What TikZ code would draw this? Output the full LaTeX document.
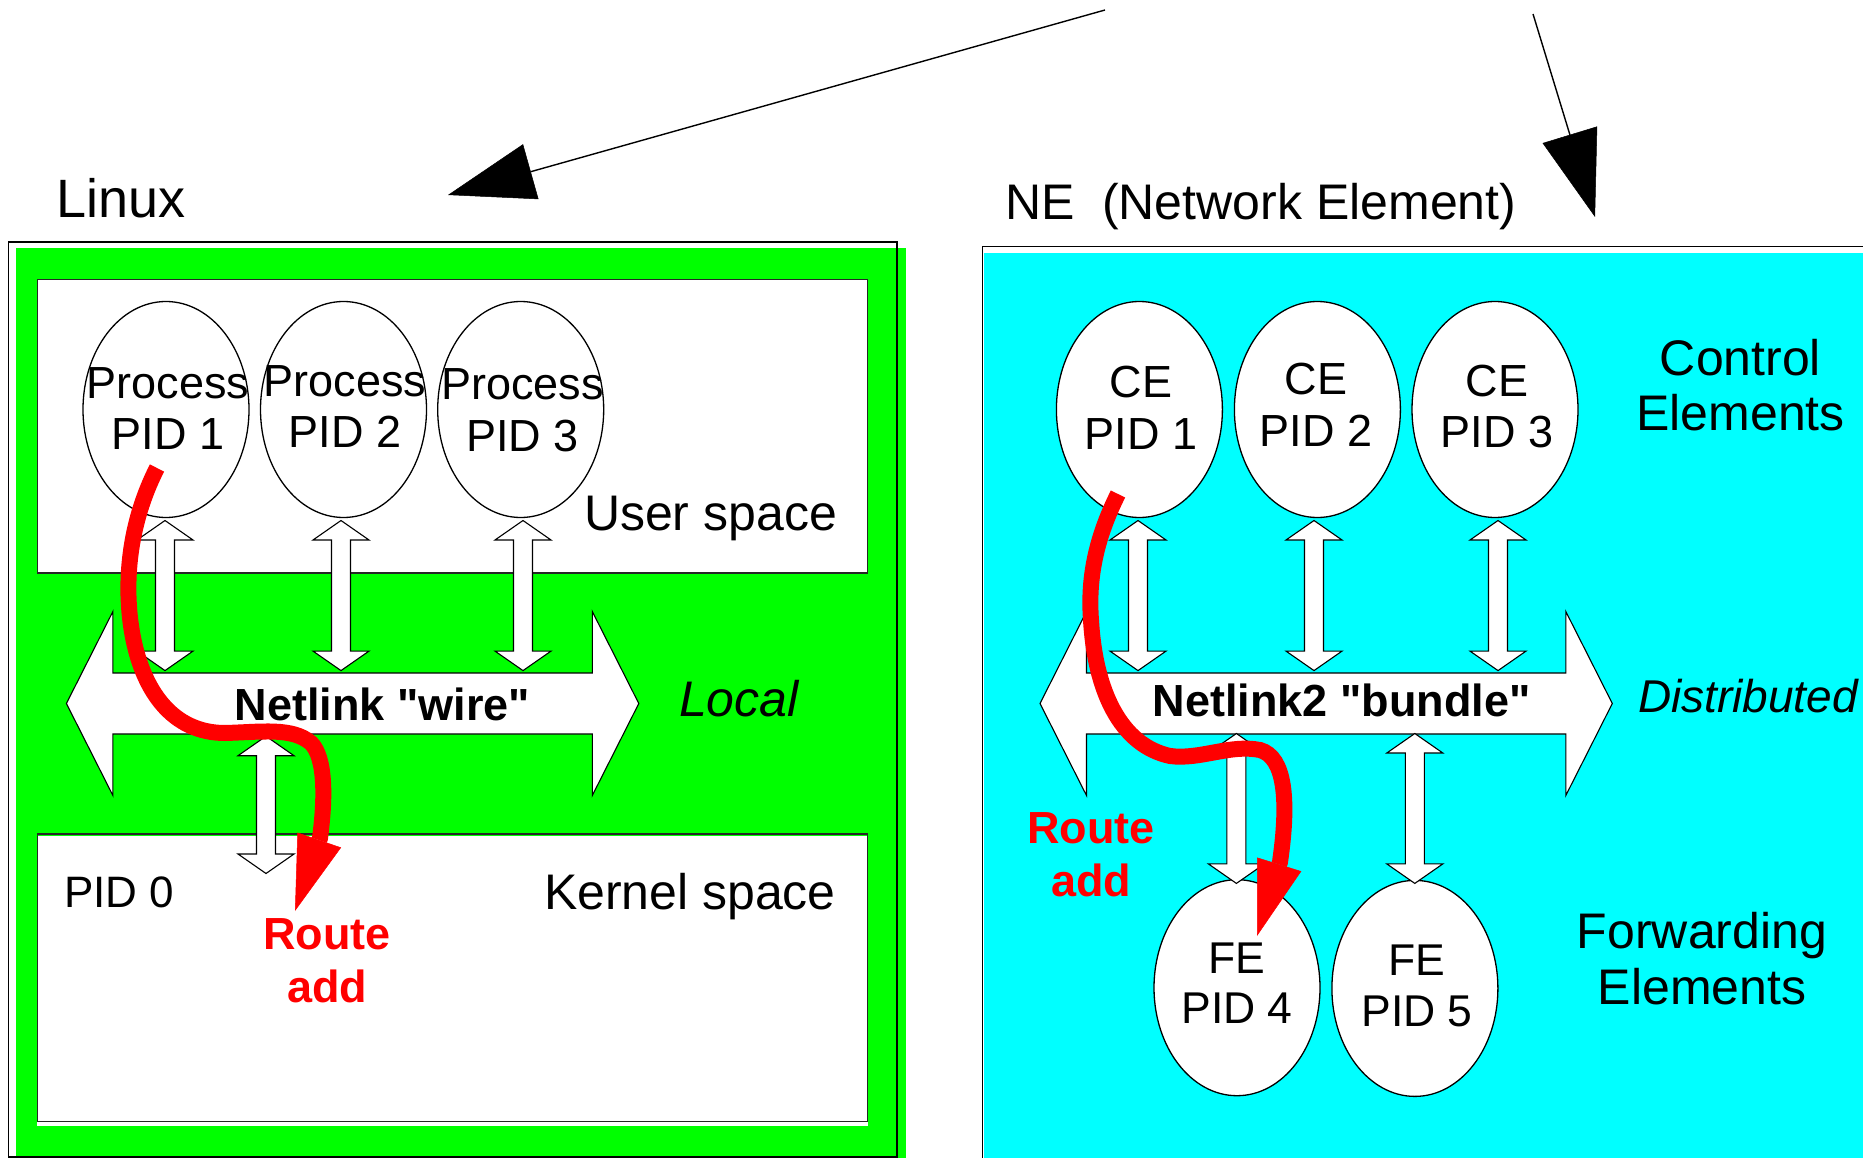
\documentclass[tikz,border=0pt]{standalone}
\usepackage{fontspec}
\setmainfont[Ligatures=TeXOff]{Liberation Sans}
\usetikzlibrary{arrows.meta,shapes.geometric}
\definecolor{lgreen}{RGB}{0,255,0}
\definecolor{ncyan}{RGB}{0,255,255}
\definecolor{rred}{RGB}{255,0,0}
\newcommand{\fsz}[2]{\fontsize{#1}{#2}\selectfont}
% hollow vertical double arrow: x, ytop, ybottom
\newcommand{\vdarr}[3]{%
  \draw[harrow] (#1,#2) -- (#1+28,#2+19.5) -- (#1+9.5,#2+19.5) -- (#1+9.5,#3-19.5) -- (#1+28,#3-19.5) -- (#1,#3) -- (#1-28,#3-19.5) -- (#1-9.5,#3-19.5) -- (#1-9.5,#2+19.5) -- (#1-28,#2+19.5) -- cycle;}
% hollow horizontal band arrow: xleft tip, xright tip, ycenter
\newcommand{\hdarr}[3]{%
  \draw[harrow] (#1,#3) -- (#1+46.5,#3-92) -- (#1+46.5,#3-30.5) -- (#2-46.5,#3-30.5) -- (#2-46.5,#3-92) -- (#2,#3) -- (#2-46.5,#3+92) -- (#2-46.5,#3+30.5) -- (#1+46.5,#3+30.5) -- (#1+46.5,#3+92) -- cycle;}
\begin{document}
\begin{tikzpicture}[x=1pt,y=-1pt,
  every node/.style={inner sep=0pt,outer sep=0pt},
  proc/.style={draw=black,line width=1.3pt,fill=white,ellipse,minimum width=166pt,minimum height=216pt},
  ptxt/.style={align=center,font=\fsz{45}{51.7}},
  ftxt/.style={align=center,font=\fsz{44.5}{50.4}},
  big/.style={font=\fsz{50}{55.5}},
  boxline/.style={draw=black!85,line width=1.2pt},
  harrow/.style={draw=black,line width=1.1pt,fill=white,line join=miter},
  blkarrow/.style={draw=black,line width=1.4pt,-{Triangle[length=86pt,width=57pt,line width=0.5pt]}},
  redarrow/.style={draw=rred,line width=16pt,-{Triangle[length=75pt,width=46pt,line width=0.5pt]}},
  redtxt/.style={align=center,text=rred,font=\fsz{45}{52.5}\bfseries}]
\useasboundingbox (0,0) rectangle (1863,1158);

% ---------- left: Linux ----------
\fill[lgreen] (16,248) rectangle (906,1175);
\draw[line width=1.3pt] (8.3,242) rectangle (897,1157);
\draw[boxline,fill=white] (37.4,279.4) rectangle (867.7,573);
\fill[white] (37.4,836) rectangle (868,1125.6);
\draw[boxline] (37.4,834) rectangle (867.7,1121.8);

\node[proc] (p1) at (166,409.5) {};
\node[proc] (p2) at (343.5,409.5) {};
\node[proc] (p3) at (520.7,409.5) {};
\node[ptxt] (p1t) at (168,408.4) {Process\\PID 1};
\node[ptxt] (p2t) at (345,406.5) {Process\\PID 2};
\node[ptxt] (p3t) at (522.5,410) {Process\\PID 3};

\hdarr{66.4}{638.8}{703.5}
\vdarr{165}{520.5}{670.6}
\vdarr{341}{520.5}{670.6}
\vdarr{523}{520.5}{670.6}
\vdarr{266}{736.2}{873.5}

\node[font=\fsz{54}{60},anchor=base west] (linux) at (56,218) {Linux};
\node[big,anchor=base west] (user) at (584,530) {User space};
\node[big,anchor=base west] (kernel) at (544,909) {Kernel space};
\node[font=\fsz{44}{50},anchor=base west] (pid0) at (64,907) {PID 0};
\node[font=\fsz{45}{50}\bfseries,anchor=base] (wire) at (382.5,720) {Netlink "wire"};
\node[font=\fsz{50}{55}\itshape,anchor=base west] (local) at (679,716) {Local};
\node[redtxt] (ra1) at (327,960.5) {Route\\add};

% ---------- right: NE ----------
\fill[ncyan] (983.5,252.6) rectangle (1875,1175);
\draw[line width=1.3pt] (982.3,1175) -- (982.3,246.8) -- (1875,246.8);

\node[proc] (c1) at (1139.4,409.5) {};
\node[proc] (c2) at (1317.4,409.5) {};
\node[proc] (c3) at (1495,409.5) {};
\node[ptxt] (c1t) at (1141,407.5) {CE\\PID 1};
\node[ptxt] (c2t) at (1316,404.6) {CE\\PID 2};
\node[ptxt] (c3t) at (1497,406.5) {CE\\PID 3};

\node[proc] (f4) at (1237,987.7) {};
\node[proc] (f5) at (1414.9,988.4) {};
\node[ftxt] (f4t) at (1237,983) {FE\\PID 4};
\node[ftxt] (f5t) at (1417,985.7) {FE\\PID 5};

\hdarr{1040}{1612.3}{703.5}
\vdarr{1138}{520.5}{670.6}
\vdarr{1314}{520.5}{670.6}
\vdarr{1498}{520.5}{670.6}
\vdarr{1236.4}{733.5}{883.4}
\vdarr{1414.8}{733.5}{883.4}

\node[big,anchor=base west] (ne) at (1005,220) {NE \ (Network Element)};
\node[big,align=center] (ctrl) at (1740.5,385) {Control\\Elements};
\node[big,align=center] (fwd) at (1702,958.7) {Forwarding\\Elements};
\node[font=\fsz{45}{50}\bfseries,anchor=base] (bundle) at (1341.7,716.4) {Netlink2 "bundle"};
\node[font=\fsz{46}{50}\itshape,anchor=base west] (dist) at (1638,712.6) {Distributed};
\node[redtxt] (ra2) at (1091,854.5) {Route\\add};

% ---------- black arrows ----------
\coordinate (s1) at (1105,10);
\coordinate (t1) at (448,195);
\coordinate (s2) at (1533,14);
\coordinate (t2) at (1595,217);
\draw[blkarrow] (s1) -- (t1);
\draw[blkarrow] (s2) -- (t2);

% ---------- red route arrows ----------
\coordinate (r1s) at (157,468);
\coordinate (r1e) at (295,911);
\draw[redarrow] (r1s) .. controls (128,525) and (124,585) .. (132,632)
  .. controls (142,690) and (172,733) .. (225,733)
  .. controls (262,732) and (292,727) .. (311,743)
  .. controls (326,758) and (325,800) .. (320,838) -- (r1e);
\coordinate (r2s) at (1118,494);
\coordinate (r2e) at (1257,936);
\draw[redarrow] (r2s) .. controls (1095,540) and (1088,580) .. (1091,620)
  .. controls (1095,690) and (1120,745) .. (1170,756)
  .. controls (1200,760) and (1230,744) .. (1260,750)
  .. controls (1285,757) and (1289,800) .. (1280,862) -- (r2e);
\end{tikzpicture}
\end{document}
